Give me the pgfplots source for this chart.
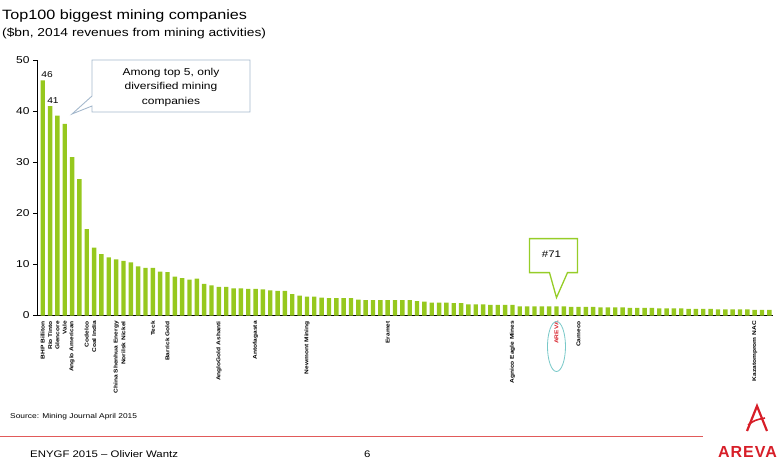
\documentclass[border=0pt]{standalone}
\usepackage{fontspec}
\setmainfont[FakeStretch=1.2]{Liberation Sans}
\newfontfamily\logofont[LetterSpace=6]{Liberation Sans}
\usepackage{pgfplots}
\pgfplotsset{compat=1.18}

\definecolor{barlime}{RGB}{150,200,30}
\definecolor{calloutblue}{RGB}{165,185,205}
\definecolor{calloutgreen}{RGB}{150,205,40}
\definecolor{arevared}{RGB}{215,30,40}
\definecolor{footline}{RGB}{225,90,90}
\definecolor{ringteal}{RGB}{120,200,200}

% revenues from mining activities, $bn, by rank
\pgfplotstableread{
rank revenue
1 46
2 41
3 39.1
4 37.5
5 31.0
6 26.7
7 16.9
8 13.3
9 12.0
10 11.4
11 11.0
12 10.7
13 10.4
14 9.6
15 9.3
16 9.3
17 8.6
18 8.5
19 7.6
20 7.3
21 7.0
22 7.2
23 6.2
24 5.9
25 5.6
26 5.6
27 5.3
28 5.3
29 5.2
30 5.2
31 5.1
32 4.9
33 4.8
34 4.8
35 4.2
36 3.9
37 3.7
38 3.7
39 3.5
40 3.4
41 3.4
42 3.4
43 3.4
44 3.1
45 3.0
46 3.0
47 3.0
48 3.0
49 3.0
50 3.0
51 3.0
52 2.8
53 2.7
54 2.5
55 2.5
56 2.5
57 2.4
58 2.4
59 2.2
60 2.2
61 2.2
62 2.1
63 2.1
64 2.1
65 2.1
66 1.8
67 1.8
68 1.8
69 1.8
70 1.8
71 1.8
72 1.8
73 1.7
74 1.7
75 1.7
76 1.7
77 1.6
78 1.6
79 1.6
80 1.6
81 1.5
82 1.5
83 1.5
84 1.5
85 1.4
86 1.4
87 1.4
88 1.4
89 1.3
90 1.3
91 1.3
92 1.3
93 1.2
94 1.2
95 1.2
96 1.2
97 1.2
98 1.1
99 1.1
100 1.1
}\miningdata

\begin{document}
\begin{tikzpicture}
\useasboundingbox (0pt,0pt) rectangle (783pt,-464pt);

% titles
\node[anchor=base west, inner sep=0pt, font=\fontsize{13.5}{16}\selectfont] at (2pt,-19pt) {Top100 biggest mining companies};
\node[anchor=base west, inner sep=0pt, font=\fontsize{11.5}{14}\selectfont] at (2pt,-36pt) {(\$bn, 2014 revenues from mining activities)};

\begin{axis}[
  at={(37pt,-315.5pt)}, anchor=south west,
  scale only axis, width=736pt, height=255.5pt,
  xmin=0.22, xmax=100.5, ymin=0, ymax=50,
  axis x line=bottom, axis y line=left,
  axis line style={-, black, line width=0.8pt},
  ytick={0,10,...,50},
  tick align=outside, major tick length=4pt,
  ytick style={black, line width=0.6pt},
  yticklabel style={font=\fontsize{10}{12}\selectfont},
  /pgf/number format/assume math mode=true,
  xtick={1,2,3,4,5,7,8,11,12,16,18,25,30,37,48,65,71,74,98},
  xticklabels={BHP Billiton,Rio Tinto,Glencore,Vale,Anglo American,Codelco,Coal India,China Shenhua Energy,Norilsk Nickel,Teck,Barrick Gold,AngloGold Ashanti,Antofagasta,Newmont Mining,Eramet,Agnico Eagle Mines,{\color{arevared}AREVA},Cameco,Kazatomprom NAC},
  xtick style={draw=none},
  xticklabel style={rotate=90, anchor=east, inner sep=1.5pt, font=\fontsize{5.5}{6}\selectfont\bfseries},
  clip=false,
]
\addplot[ybar, bar width=4.4pt, fill=barlime, draw=none] table[x=rank, y=revenue] {\miningdata};

% value labels of the two leaders
\node[anchor=south west, inner sep=0pt, font=\fontsize{8.5}{10}\selectfont] at (axis cs:1,46) [xshift=-1.5pt, yshift=2.5pt] {46};
\node[anchor=south west, inner sep=0pt, font=\fontsize{8.5}{10}\selectfont] at (axis cs:2,41) [xshift=-3pt, yshift=2.5pt] {41};

% rank 71 callout
\coordinate (t71) at (axis cs:71,3.5);
\draw[calloutgreen, line width=1.3pt, fill=white, line join=miter]
  (t71) -- ++(11pt,25pt) -- ++(10pt,0pt) -- ++(0pt,34pt) -- ++(-48pt,0pt) -- ++(0pt,-34pt) -- ++(20pt,0pt) -- cycle;
\node[font=\fontsize{9.5}{11}\selectfont, inner sep=0pt] at ([shift={(-5pt,43pt)}]t71) {\#71};

% ring round the AREVA label
\draw[ringteal, line width=0.8pt] (axis cs:71,0) ++(0pt,-31pt) ellipse [x radius=9pt, y radius=25pt];
\end{axis}

% diversified miners callout
\draw[calloutblue, line width=0.9pt, fill=white, line join=miter]
  (92pt,-60pt) -- (250pt,-60pt) -- (250pt,-112pt) -- (92pt,-112pt) -- (92pt,-106pt) -- (72pt,-114pt) -- (92pt,-96pt) -- cycle;
\node[align=center, font=\fontsize{10}{14.5}\selectfont, inner sep=0pt] at (171pt,-87pt) {Among top 5, only\\diversified mining\\companies};

% footer
\node[anchor=base west, inner sep=0pt, font=\fontsize{7}{8}\selectfont] at (10pt,-418pt) {Source: Mining Journal April 2015};
\draw[footline, line width=0.8pt] (0pt,-436.5pt) -- (703pt,-436.5pt);
\node[anchor=base west, inner sep=0pt, font=\fontsize{9.5}{11}\selectfont] at (30pt,-457pt) {ENYGF 2015 – Olivier Wantz};
\node[anchor=base west, inner sep=0pt, font=\fontsize{9.5}{11}\selectfont] at (364pt,-457pt) {6};

% logo
\draw[arevared, line width=2.2pt, line join=miter] (747pt,-431pt) -- (757pt,-406pt) -- (767pt,-431pt);
\draw[arevared, line width=1.6pt] (748pt,-425pt) .. controls (755pt,-420pt) .. (765pt,-418pt);
\node[anchor=base west, inner sep=0pt, text=arevared, font=\logofont\bfseries\fontsize{16}{18}\selectfont] at (718pt,-457pt) {AREVA};
\end{tikzpicture}
\end{document}
